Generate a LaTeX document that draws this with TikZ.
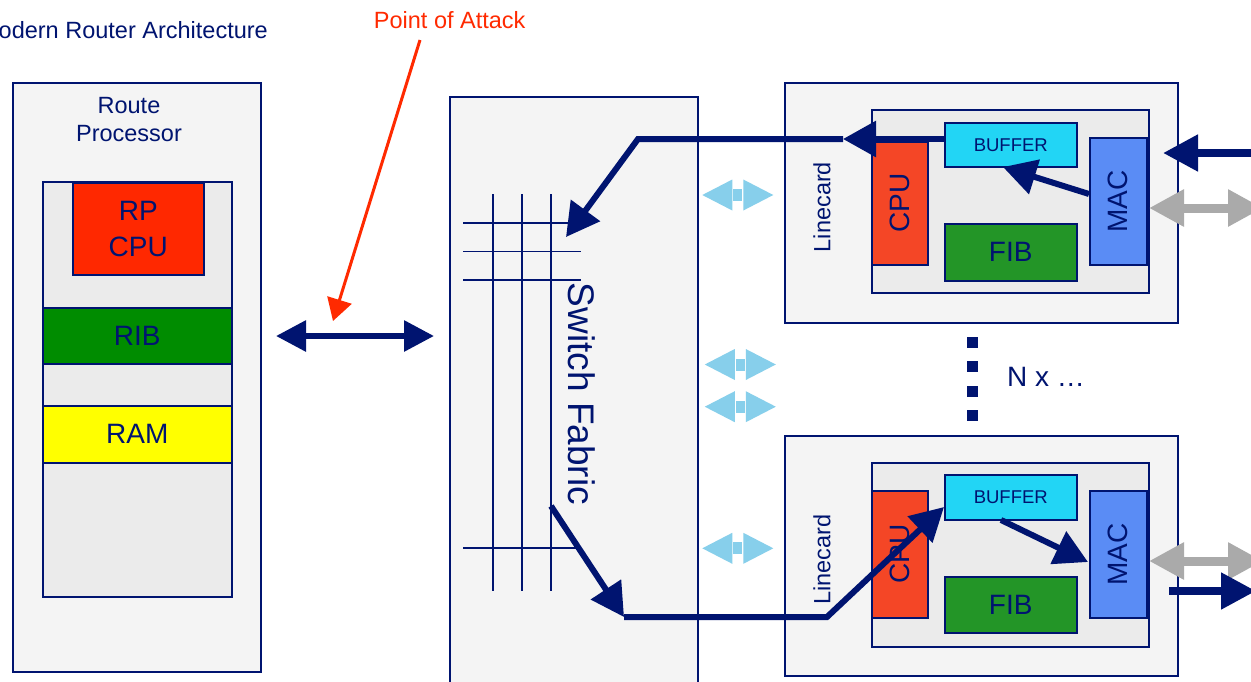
\documentclass[tikz,border=0pt]{standalone}
\usepackage{fontspec}
\setmainfont{Liberation Sans}
\usetikzlibrary{arrows.meta}

\definecolor{navy}{RGB}{0,20,112}
\definecolor{panelgray}{RGB}{244,244,244}
\definecolor{innergray}{RGB}{235,235,235}
\definecolor{rpred}{RGB}{255,40,0}
\definecolor{ribgreen}{RGB}{0,140,0}
\definecolor{ramyellow}{RGB}{255,255,0}
\definecolor{lccpu}{RGB}{244,70,38}
\definecolor{bufcyan}{RGB}{34,213,245}
\definecolor{fibgreen}{RGB}{35,149,39}
\definecolor{macblue}{RGB}{90,140,245}
\definecolor{linkgray}{RGB}{170,170,170}
\definecolor{linkblue}{RGB}{135,207,235}
\definecolor{attackred}{RGB}{255,42,0}

\tikzset{
  panelbox/.style={draw=navy, line width=2pt, fill=panelgray, anchor=north west, inner sep=0pt},
  innerbox/.style={draw=navy, line width=1.5pt, fill=innergray, anchor=north west, inner sep=0pt},
  partbox/.style={draw=navy, line width=1.5pt, anchor=north west, inner sep=0pt, text=navy,
    font=\fontsize{28}{36}\selectfont, align=center},
  lbl/.style={text=navy, inner sep=0pt, font=\fontsize{23.5}{28}\selectfont, align=center},
  biglbl/.style={text=navy, inner sep=0pt, font=\fontsize{28}{34}\selectfont},
  grid/.style={draw=navy, line width=1.5pt},
  fat/.style={draw=navy, line width=6pt, -{Triangle[length=33pt,width=35pt]}},
  wire/.style={draw=navy, line width=8pt, -{Triangle[length=35pt,width=35pt]}},
  duplex/.style={draw=linkgray, line width=9pt,
    {Triangle[length=35pt,width=35pt]}-{Triangle[length=35pt,width=35pt]}},
  pics/linkarrow/.style={code={
    \fill[linkblue] (-35.5,0) -- (-5.5,-15.5) -- (-5.5,15.5) -- cycle;
    \fill[linkblue] (35.5,0) -- (5.5,-15.5) -- (5.5,15.5) -- cycle;
    \fill[linkblue] (-4.6,-6) rectangle (4.6,6);
  }},
}

\begin{document}
\begin{tikzpicture}[x=1pt,y=-1pt]
\clip (0,0) rectangle (1251,681);
\fill[white] (0,0) rectangle (1251,681);

% headings
\node[lbl, anchor=east] (title) at (268,30) {odern Router Architecture};
\node[lbl, text=attackred] (attack) at (449.7,20) {Point of Attack};

% route processor
\node[panelbox, minimum width=248pt, minimum height=589pt] (rp) at (12,82) {};
\node[lbl] (rptitle) at (129,120) {Route\\Processor};
\node[innerbox, minimum width=189pt, minimum height=415pt] (rpin) at (42,181) {};
\node[partbox, fill=rpred, minimum width=131pt, minimum height=92pt] (rpcpu) at (72,182) {RP\\CPU};
\node[partbox, fill=ribgreen, minimum width=189pt, minimum height=56pt] (rib) at (42,307) {RIB};
\node[partbox, fill=ramyellow, minimum width=189pt, minimum height=57pt] (ram) at (42,405) {RAM};

% switch fabric
\node[panelbox, line width=1.5pt, minimum width=248pt, minimum height=620pt] (fabric) at (449,96) {};
\foreach \gx in {493,522,551} \draw[grid] (\gx,194) -- (\gx,591);
\draw[grid] (463,223) -- (573,223);
\draw[grid] (463,251.7) -- (581,251.7);
\draw[grid] (463,280) -- (581,280);
\draw[grid] (463,548) -- (577,548);
\node[text=navy, inner sep=0pt, rotate=-90, font=\fontsize{37}{40}\selectfont] (fabriclbl) at (582,394) {Switch Fabric};

% upper linecard
\node[panelbox, minimum width=393pt, minimum height=240pt] (lcA) at (784,82) {};
\node[innerbox, minimum width=277pt, minimum height=183pt] (lcAin) at (871,109) {};
\node[partbox, fill=lccpu, minimum width=56pt, minimum height=123pt] (lcAcpu) at (871,141) {};
\node[partbox, fill=bufcyan, minimum width=132pt, minimum height=44pt, font=\fontsize{18.5}{22}\selectfont] (lcAbuf) at (944,122) {BUFFER};
\node[partbox, fill=fibgreen, minimum width=132pt, minimum height=57pt] (lcAfib) at (944,223) {FIB};
\node[partbox, fill=macblue, minimum width=57pt, minimum height=127pt] (lcAmac) at (1089,137) {};
\node[biglbl, rotate=90] (lcAcpulbl) at (lcAcpu.center) {CPU};
\node[biglbl, rotate=90] (lcAmaclbl) at (lcAmac.center) {MAC};
\node[lbl, rotate=90] (lcAlbl) at (822,207) {Linecard};

% lower linecard
\node[panelbox, minimum width=393pt, minimum height=240pt] (lcB) at (784,435) {};
\node[innerbox, minimum width=277pt, minimum height=184pt] (lcBin) at (871,462) {};
\node[partbox, fill=lccpu, minimum width=56pt, minimum height=127pt] (lcBcpu) at (871,490) {};
\node[partbox, fill=bufcyan, minimum width=132pt, minimum height=45pt, font=\fontsize{18.5}{22}\selectfont] (lcBbuf) at (944,474) {BUFFER};
\node[partbox, fill=fibgreen, minimum width=132pt, minimum height=56pt] (lcBfib) at (944,576) {FIB};
\node[partbox, fill=macblue, minimum width=57pt, minimum height=127pt] (lcBmac) at (1089,490) {};
\node[biglbl, rotate=90] (lcBcpulbl) at (lcBcpu.center) {CPU};
\node[biglbl, rotate=90] (lcBmaclbl) at (lcBmac.center) {MAC};
\node[lbl, rotate=90] (lcBlbl) at (822,559.5) {Linecard};

% more linecards
\foreach \dy in {342,366.5,391,415}
  \fill[navy] (967.2,\dy-5.5) rectangle (978.2,\dy+5.5);
\node[biglbl] (nx) at (1046,377) {N x …};

% fabric links
\pic at (737.8,195) {linkarrow};
\pic at (740.3,364.5) {linkarrow};
\pic at (740.3,406.7) {linkarrow};
\pic at (737.8,548.3) {linkarrow};

% route processor to fabric
\coordinate (rpx) at (276,336);
\coordinate (fbx) at (434,336);
\draw[draw=navy, line width=6pt,
  {Triangle[length=30pt,width=30pt]}-{Triangle[length=30pt,width=30pt]}] (rpx) -- (fbx);

% point of attack
\coordinate (atk0) at (420,40);
\coordinate (atk1) at (333,321);
\draw[draw=attackred, line width=3pt, -{Triangle[length=22pt,width=25pt]}] (atk0) -- (atk1);

% packet path, upper linecard
\coordinate (inA0) at (1262,153);
\coordinate (inA1) at (1163,153);
\draw[wire] (inA0) -- (inA1);
\coordinate (macA) at (1089,194);
\coordinate (bufA) at (1003,167);
\draw[fat] (macA) -- (bufA);
\coordinate (a0) at (944,139);
\coordinate (a1) at (843,139);
\coordinate (a2) at (638,139);
\coordinate (a3) at (566,237);
\draw[fat] (a0) -- (a1);
\draw[fat] (a1) -- (a2) -- (a3);
\coordinate (gA0) at (1149,208);
\coordinate (gA1) at (1263,208);
\draw[duplex] (gA0) -- (gA1);

% packet path, lower linecard
\coordinate (b0) at (551,506);
\coordinate (b1) at (624,617);
\coordinate (b2) at (827,617);
\coordinate (b3) at (944,507);
\draw[fat] (b0) -- (b1);
\draw[fat] (b1) -- (b2) -- (b3);
\coordinate (bufB) at (1001,520);
\coordinate (macB) at (1088,562);
\draw[fat] (bufB) -- (macB);
\coordinate (gB0) at (1149,561);
\coordinate (gB1) at (1263,561);
\draw[duplex] (gB0) -- (gB1);
\coordinate (outB0) at (1169,591);
\coordinate (outB1) at (1256,591);
\draw[wire] (outB0) -- (outB1);
\end{tikzpicture}
\end{document}
